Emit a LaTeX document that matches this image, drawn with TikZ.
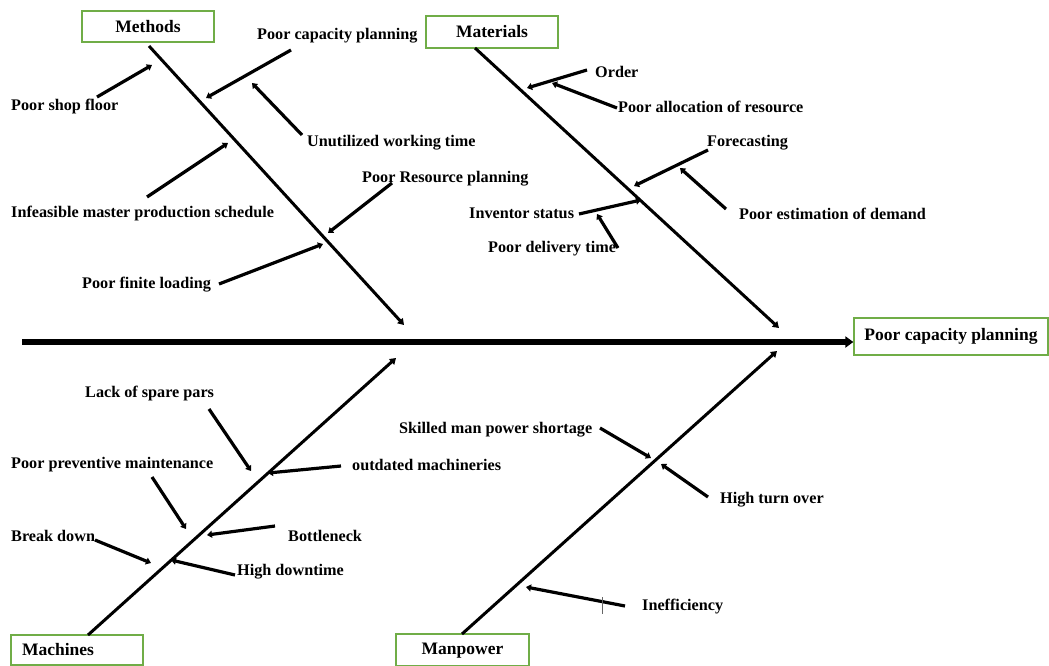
\documentclass[tikz,border=0pt]{standalone}
\usepackage{fontspec}
\setmainfont{Liberation Serif}
\usetikzlibrary{arrows.meta}
\definecolor{boxgreen}{RGB}{112,173,71}
\begin{document}
\begin{tikzpicture}[x=1pt,y=-1pt,
  lbl/.style={font=\bfseries\fontsize{16.2}{18}\selectfont, inner sep=0pt, anchor=west, yshift=-1.5pt},
  catbox/.style={draw=boxgreen, line width=1.3pt, font=\bfseries\fontsize{17.5}{19}\selectfont, inner sep=0pt},
  cause/.style={line width=3.2pt, -{Triangle[length=5pt,width=7pt]}},
  bone/.style={line width=3pt, -{Triangle[length=6pt,width=7.5pt]}},
  spine/.style={line width=5.5pt, -{Triangle[length=8pt,width=11pt]}}]
\useasboundingbox (0,0) rectangle (1049,666);
\fill[white] (0,0) rectangle (1049,666);

% category boxes and effect
\node[catbox, minimum width=132pt, minimum height=31pt] (methods) at (148,26.5) {Methods};
\node[catbox, minimum width=132pt, minimum height=32pt] (materials) at (492,32) {Materials};
\node[catbox, minimum width=194pt, minimum height=37pt] (effect) at (951,336.5) {Poor capacity planning};
\node[catbox, minimum height=30pt, text width=110pt, align=left, inner xsep=11pt] (machines) at (77,650) {Machines};
\node[catbox, minimum width=133pt, minimum height=32pt, text depth=3pt] (manpower) at (462.5,650) {Manpower};

% spine
\coordinate (sp0) at (22,342);
\draw[spine] (sp0) -- (sp0 -| effect.west);

% bones
\coordinate (mb0) at (149,46);  \coordinate (mb1) at (404,325);
\coordinate (tb0) at (475,48);  \coordinate (tb1) at (779,328);
\coordinate (hb0) at (88,635);  \coordinate (hb1) at (396,358);
\coordinate (pb0) at (462,634); \coordinate (pb1) at (777,351);
\draw[bone] (mb0) -- (mb1);
\draw[bone] (tb0) -- (tb1);
\draw[bone] (hb0) -- (hb1);
\draw[bone] (pb0) -- (pb1);

% Methods causes
\node[lbl] (shop) at (11,105) {Poor shop floor};
\node[lbl] (pcp) at (257,34) {Poor capacity planning};
\node[lbl] (unut) at (307,141) {Unutilized working time};
\node[lbl] (infe) at (11,212) {Infeasible master production schedule};
\node[lbl] (prp) at (362,177) {Poor Resource planning};
\node[lbl] (pfl) at (82,283) {Poor finite loading};
\coordinate (a1s) at (97,97);   \coordinate (a1e) at (152,65);
\coordinate (a2s) at (291,50);  \coordinate (a2e) at (206,98);
\coordinate (a3s) at (302,135); \coordinate (a3e) at (252,83);
\coordinate (a4s) at (147,197); \coordinate (a4e) at (228,143);
\coordinate (a5s) at (392,183); \coordinate (a5e) at (328,233);
\coordinate (a6s) at (219,284); \coordinate (a6e) at (323,244);
\draw[cause] (a1s) -- (a1e);
\draw[cause] (a2s) -- (a2e);
\draw[cause] (a3s) -- (a3e);
\draw[cause] (a4s) -- (a4e);
\draw[cause] (a5s) -- (a5e);
\draw[cause] (a6s) -- (a6e);

% Materials causes
\node[lbl] (order) at (595,70) {Order};
\node[lbl] (alloc) at (618,105) {Poor allocation of resource};
\node[lbl] (fore) at (707,141) {Forecasting};
\node[lbl] (estim) at (739,212) {Poor estimation of demand};
\node[lbl] (inv) at (469,212) {Inventor status};
\node[lbl] (deliv) at (488,247) {Poor delivery time};
\coordinate (b1s) at (587,70);  \coordinate (b1e) at (527,88);
\coordinate (b2s) at (617,108); \coordinate (b2e) at (552,83);
\coordinate (b3s) at (708,150); \coordinate (b3e) at (634,186);
\coordinate (b4s) at (726,209); \coordinate (b4e) at (680,168);
\coordinate (b5s) at (579,214); \coordinate (b5e) at (641,200);
\coordinate (b6s) at (618,248); \coordinate (b6e) at (597,214);
\draw[cause] (b1s) -- (b1e);
\draw[cause] (b2s) -- (b2e);
\draw[cause] (b3s) -- (b3e);
\draw[cause] (b4s) -- (b4e);
\draw[cause] (b5s) -- (b5e);
\draw[cause] (b6s) -- (b6e);

% Machines causes
\node[lbl] (spare) at (85,392) {Lack of spare pars};
\node[lbl] (outd) at (352,463) {outdated machineries};
\node[lbl] (prev) at (11,463) {Poor preventive maintenance};
\node[lbl] (brk) at (11,534) {Break down};
\node[lbl] (bott) at (288,534) {Bottleneck};
\node[lbl] (hdt) at (237,570) {High downtime};
\coordinate (c1s) at (209,409); \coordinate (c1e) at (251,471);
\coordinate (c2s) at (341,466); \coordinate (c2e) at (268,473);
\coordinate (c3s) at (152,477); \coordinate (c3e) at (186,529);
\coordinate (c4s) at (95,540);  \coordinate (c4e) at (151,563);
\coordinate (c5s) at (275,526); \coordinate (c5e) at (207,535);
\coordinate (c6s) at (235,575); \coordinate (c6e) at (171,560);
\draw[cause] (c1s) -- (c1e);
\draw[cause] (c2s) -- (c2e);
\draw[cause] (c3s) -- (c3e);
\draw[cause] (c4s) -- (c4e);
\draw[cause] (c5s) -- (c5e);
\draw[cause] (c6s) -- (c6e);

% Manpower causes
\node[lbl] (skill) at (399,428) {Skilled man power shortage};
\node[lbl] (turn) at (720,498) {High turn over};
\node[lbl] (ineff) at (642,605) {Inefficiency};
\coordinate (d1s) at (600,428); \coordinate (d1e) at (651,458);
\coordinate (d2s) at (708,497); \coordinate (d2e) at (661,464);
\coordinate (d3s) at (625,606); \coordinate (d3e) at (526,587);
\draw[cause] (d1s) -- (d1e);
\draw[cause] (d2s) -- (d2e);
\draw[cause] (d3s) -- (d3e);
\coordinate (tk0) at (602,597); \coordinate (tk1) at (602,614);
\draw[line width=0.6pt, black!60] (tk0) -- (tk1);
\end{tikzpicture}
\end{document}
